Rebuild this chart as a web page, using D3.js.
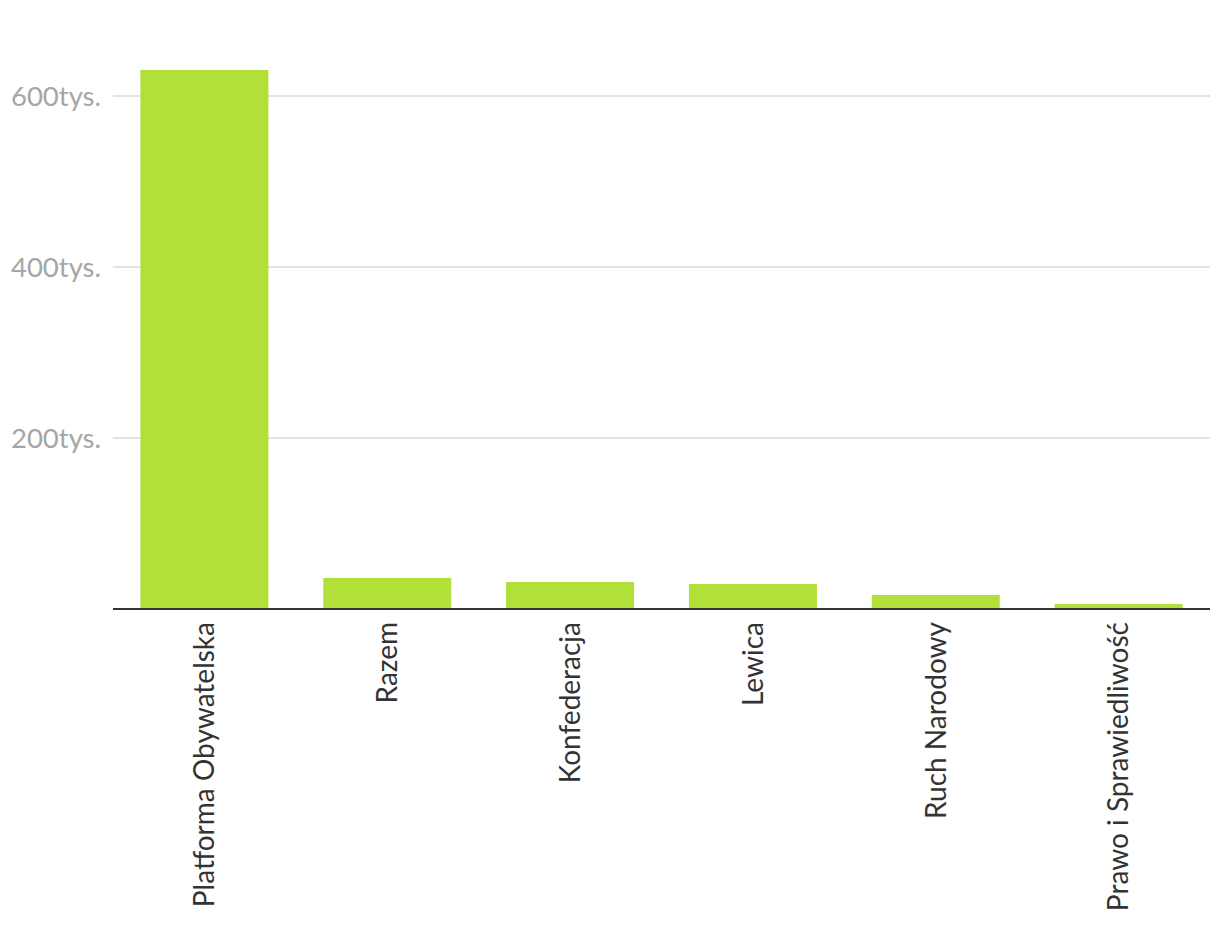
<!DOCTYPE html>
<html><head><meta charset="utf-8">
<script src="https://cdn.jsdelivr.net/npm/d3@7"></script>
<style>
html,body{margin:0;padding:0;background:#fff;}
text{font-family:Lato, "DejaVu Sans", sans-serif;}
</style></head>
<body>
<svg id="c" width="1220" height="926"></svg>
<script>
const categories = ["Platforma Obywatelska","Razem","Konfederacja","Lewica","Ruch Narodowy","Prawo i Sprawiedliwość"];
const values = [630400, 36300, 31600, 29200, 16400, 5800];
const tickValues = [200000, 400000, 600000];
const tickLabels = ["200tys.","400tys.","600tys."];

const svg = d3.select("#c");
const left = 113, right = 1210, bottom = 609, top600 = 96;
const x = d3.scaleBand().domain(categories).range([left, right]).paddingInner(0.3).paddingOuter(0.15);
const y = d3.scaleLinear().domain([0, 600000]).range([bottom, top600]);

// grid
svg.append("g").selectAll("line").data(tickValues).join("line")
  .attr("x1", left).attr("x2", right)
  .attr("y1", d => y(d)).attr("y2", d => y(d))
  .attr("stroke", "#e3e3e3").attr("stroke-width", 2);

// y labels
svg.append("g").selectAll("text").data(tickValues).join("text")
  .attr("x", 101).attr("y", d => y(d))
  .attr("dy", "0.35em")
  .attr("text-anchor", "end")
  .attr("fill", "#a6a6a6")
  .attr("font-size", 27.5)
  .text((d, i) => tickLabels[i]);

// bars
svg.append("g").selectAll("rect").data(values).join("rect")
  .attr("x", (d, i) => x(categories[i]))
  .attr("width", x.bandwidth())
  .attr("y", d => y(d))
  .attr("height", d => y(0) - y(d))
  .attr("fill", "#b2e038");

// x axis
const xAxis = svg.append("g").attr("transform", `translate(0,${bottom})`)
  .call(d3.axisBottom(x).tickSize(0).tickPadding(0));
xAxis.select(".domain").attr("stroke", "#333").attr("stroke-width", 2)
  .attr("d", `M${left},0H${right}`);
xAxis.selectAll(".tick text")
  .attr("font-family", "Lato, sans-serif")
  .attr("font-size", 28)
  .attr("fill", "#333")
  .attr("text-anchor", "end")
  .attr("transform", "translate(0,13) rotate(-90)")
  .attr("x", 0).attr("y", 0).attr("dy", "0.35em");
</script>
</body></html>
